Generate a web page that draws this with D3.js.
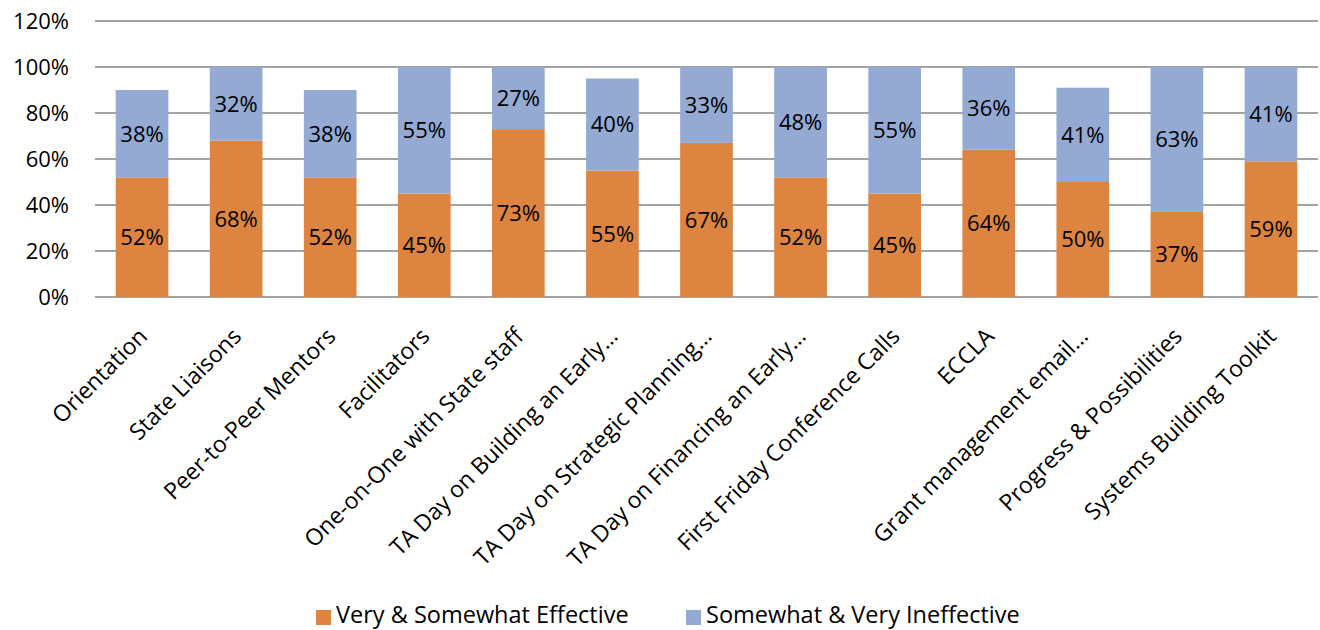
<!DOCTYPE html>
<html>
<head>
<meta charset="utf-8">
<script src="https://cdn.jsdelivr.net/npm/d3@7"></script>
<style>
  html, body { margin: 0; padding: 0; background: #fff; }
  svg text { font-family: "Open Sans", sans-serif; fill: #000; }
</style>
</head>
<body>
<div id="chart"></div>
<script>
// programme items rated by states
const categories = [
    "Orientation", "State Liaisons", "Peer-to-Peer Mentors", "Facilitators",
    "One-on-One with State staff", "TA Day on Building an Early…",
    "TA Day on Strategic Planning…", "TA Day on Financing an Early…",
    "First Friday Conference Calls", "ECCLA", "Grant management email…",
    "Progress & Possibilities", "Systems Building Toolkit"
];
const effective   = [52, 68, 52, 45, 73, 55, 67, 52, 45, 64, 50, 37, 59];
const ineffective = [38, 32, 38, 55, 27, 40, 33, 48, 55, 36, 41, 63, 41];
const seriesNames = ["Very & Somewhat Effective", "Somewhat & Very Ineffective"];
const yTicks = [0, 20, 40, 60, 80, 100, 120];

const colors = ["#DD8540", "#94AAD3"];
const width = 1320, height = 630;

const svg = d3.select("#chart").append("svg")
    .attr("width", width)
    .attr("height", height);

// scales
const x = d3.scaleBand()
    .domain(categories)
    .range([95, 1318])
    .paddingInner(0.44)
    .paddingOuter(0.22);

const y = d3.scaleLinear()
    .domain([0, 120])
    .range([297, 21]);

// gridlines
svg.append("g")
    .selectAll("line")
    .data(yTicks)
    .join("line")
    .attr("x1", 95)
    .attr("x2", 1318)
    .attr("y1", d => y(d))
    .attr("y2", d => y(d))
    .attr("stroke", "#A3A3A3")
    .attr("stroke-width", 2);

// y axis labels
svg.append("g")
    .selectAll("text")
    .data(yTicks)
    .join("text")
    .attr("x", 69)
    .attr("y", d => y(d))
    .attr("dy", "0.36em")
    .attr("text-anchor", "end")
    .style("font-size", "22px")
    .text(d => d + "%");

// stacked data
const rows = categories.map((c, i) => ({ cat: c, eff: effective[i], ineff: ineffective[i] }));
const stack = d3.stack().keys(["eff", "ineff"])(rows);

const layers = svg.append("g")
    .selectAll("g")
    .data(stack)
    .join("g")
    .attr("fill", (d, i) => colors[i]);

layers.selectAll("rect")
    .data(d => d)
    .join("rect")
    .attr("x", d => x(d.data.cat))
    .attr("width", x.bandwidth())
    .attr("y", d => y(d[1]))
    .attr("height", d => y(d[0]) - y(d[1]));

// value labels
layers.selectAll("text")
    .data(d => d)
    .join("text")
    .attr("x", d => x(d.data.cat) + x.bandwidth() / 2)
    .attr("y", d => y((d[0] + d[1]) / 2))
    .attr("dy", "0.36em")
    .attr("text-anchor", "middle")
    .style("font-size", "22px")
    .text(d => (d[1] - d[0]) + "%");

// category labels, rotated
svg.append("g")
    .selectAll("text")
    .data(categories)
    .join("text")
    .attr("text-anchor", "end")
    .attr("transform", d => `translate(${x(d) + x.bandwidth() / 2 + 1},${332}) rotate(-45)`)
    .attr("dy", "0.35em")
    .style("font-size", "23px")
    .text(d => d);

// legend
const legendX = [316, 686];
const legend = svg.append("g")
    .selectAll("g")
    .data(seriesNames)
    .join("g")
    .attr("transform", (d, i) => `translate(${legendX[i]},610)`);

legend.append("rect")
    .attr("width", 15)
    .attr("height", 15)
    .attr("fill", (d, i) => colors[i]);

legend.append("text")
    .attr("x", 20)
    .attr("y", 13)
    .style("font-size", "23.5px")
    .text(d => d);
</script>
</body>
</html>
